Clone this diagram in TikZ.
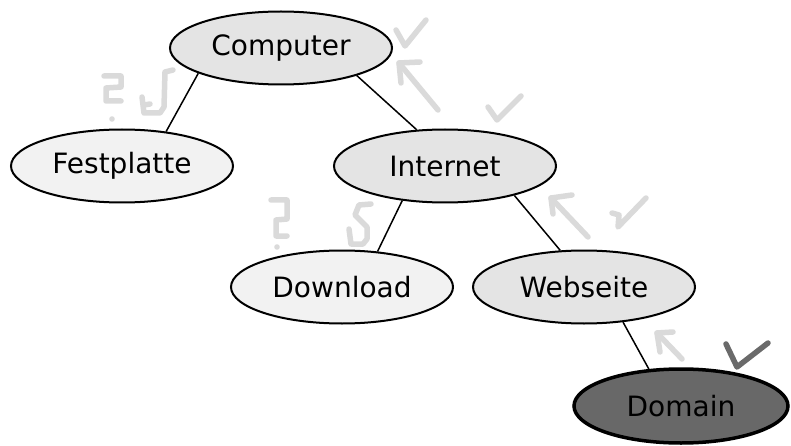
\documentclass[tikz,border=0pt]{standalone}
\usepackage{fontspec}
\setmainfont{DejaVu Sans}
\usetikzlibrary{shapes.geometric}
\definecolor{nodelight}{HTML}{E4E4E4}
\definecolor{nodepale}{HTML}{F2F2F2}
\definecolor{nodedark}{HTML}{686868}
\definecolor{penlight}{HTML}{DADADA}
\definecolor{pendark}{HTML}{6A6A6A}
\tikzset{
  topic/.style={ellipse, draw=black, line width=2pt, inner sep=0pt,
    minimum width=222pt, minimum height=73pt,
    font=\fontsize{28}{34}\selectfont},
  topichi/.style={topic, fill=nodelight},
  topiclo/.style={topic, fill=nodepale},
  topicdark/.style={topic, fill=nodedark, line width=3.5pt, minimum width=214pt, minimum height=74pt},
  branch/.style={draw=black, line width=1.5pt},
  pen/.style={draw=penlight, line width=5.5pt, line cap=round, line join=round},
  pendk/.style={draw=pendark, line width=5.5pt, line cap=round, line join=round}
}
\begin{document}
\begin{tikzpicture}[x=1pt, y=-1pt]
\useasboundingbox (0,0) rectangle (791,446);

% tree of topics
\node[topichi]   (computer)   at (281,48)  {Computer};
\node[topiclo]   (festplatte) at (122,166) {Festplatte};
\node[topichi]   (internet)   at (445,166) {Internet};
\node[topiclo]   (download)   at (342,287) {Download};
\node[topichi]   (webseite)   at (584,287) {Webseite};
\node[topicdark] (domain)     at (681,406) {Domain};

\draw[branch] (computer.197) -- (festplatte.38);
\draw[branch] (computer.340) -- (internet.128);
\draw[branch] (internet.219) -- (download.45);
\draw[branch] (internet.337) -- (webseite.123);
\draw[branch] (webseite.318) -- (domain.131);

% hand-written marks: question marks
\draw[pen] (104,76) -- (121,76) -- (121,87) -- (106,88) -- (106,101) -- (121,101);
\fill[penlight] (112,119) circle (2.8pt);
\draw[pen] (271,200) -- (287,200) -- (287,219) -- (276,220) -- (276,236) -- (287,236);
\fill[penlight] (277,247) circle (2.8pt);

% hand-written marks: squiggles
\draw[pen] (173,70) -- (165,72) -- (164,107) -- (160,113) -- (144,113) -- (142,97);
\draw[pen] (144,105) -- (150,104);
\draw[pen] (371,204) -- (359,205) -- (355,215) -- (367,227) -- (367,239) -- (363,244) -- (351,244) -- (349,229);

% hand-written marks: arrows pointing up the tree
\draw[pen] (438,110) -- (399,63);
\draw[pen] (420,62) -- (399,63) -- (401,83);
\draw[pen] (588,237) -- (551,198);
\draw[pen] (572,195) -- (551,198) -- (553,214);
\draw[pen] (682,359) -- (657,333);
\draw[pen] (673,332) -- (657,333) -- (660,352);

% hand-written marks: ticks
\draw[pen] (396,30) -- (405,46) -- (426,20);
\draw[pen] (488,107) -- (497,120) -- (521,96);
\draw[pen] (612,213) -- (619,215) -- (618,227) -- (646,198);
\draw[pendk] (726,344) -- (737,367) -- (768,343);
\end{tikzpicture}
\end{document}
